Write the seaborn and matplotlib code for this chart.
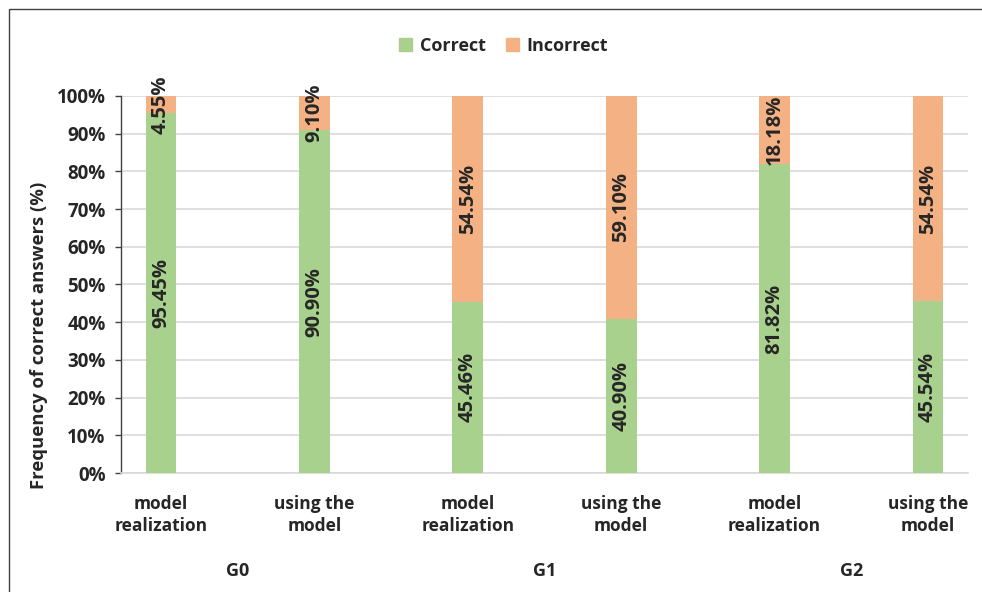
import matplotlib
matplotlib.use("Agg")
import matplotlib.pyplot as plt
import matplotlib.patches as mpatches
import matplotlib.transforms as mtransforms
import seaborn as sns
import pandas as pd

# chart data
tasks = ["model\nrealization", "using the\nmodel", "model\nrealization",
         "using the\nmodel", "model\nrealization", "using the\nmodel"]
groups = ["G0", "G1", "G2"]
correct = [95.45, 90.90, 45.46, 40.90, 81.82, 45.54]
incorrect = [4.55, 9.10, 54.54, 59.10, 18.18, 54.54]
correct_labels = ["95.45%", "90.90%", "45.46%", "40.90%", "81.82%", "45.54%"]
incorrect_labels = ["4.55%", "9.10%", "54.54%", "59.10%", "18.18%", "54.54%"]

green = "#A9D18E"
orange = "#F4B183"

df = pd.DataFrame({
    "key": [str(i) for i in range(len(tasks))],
    "correct": correct,
    "total": [c + w for c, w in zip(correct, incorrect)],
})

sns.set_style("white")
plt.rcParams["font.family"] = ["Open Sans", "DejaVu Sans"]
plt.rcParams["font.weight"] = "bold"

fig = plt.figure(figsize=(9.82, 5.92), dpi=100)
ax = fig.add_axes([0.1232, 0.201, 0.8625, 0.637])

sns.barplot(data=df, x="key", y="total", color=orange, width=0.2,
            saturation=1, linewidth=0, ax=ax, zorder=2)
sns.barplot(data=df, x="key", y="correct", color=green, width=0.2,
            saturation=1, linewidth=0, ax=ax, zorder=3)

# segment labels
for i in range(len(tasks)):
    ax.text(i, correct[i] / 2, correct_labels[i], rotation=90, ha="center",
            va="center", fontsize=14.5, fontweight="bold", zorder=5)
    ax.text(i, correct[i] + incorrect[i] / 2, incorrect_labels[i], rotation=90,
            ha="center", va="center", fontsize=14.5, fontweight="bold", zorder=5)

ax.set_xlim(-0.26, len(tasks) - 1 + 0.26)
ax.set_ylim(0, 100)
ax.set_yticks(range(0, 101, 10))
ax.set_yticklabels([f"{v}%" for v in range(0, 101, 10)], fontsize=13.5,
                   fontweight="bold")
ax.set_xticks(range(len(tasks)))
ax.set_xticklabels(tasks, fontsize=12.5, fontweight="bold", linespacing=1.3)
ax.tick_params(axis="x", length=0, pad=16)
ax.tick_params(axis="y", length=4, width=1, color="#404040", direction="out",
               pad=7, left=True)
ax.set_xlabel("")
ax.set_ylabel("")
fig.text(39 / 982, 1 - 335 / 592, "Frequency of correct answers (%)",
         rotation=90, ha="center", va="center", fontsize=13.3,
         fontweight="bold")

ax.yaxis.grid(True, color="#D9D9D9", linewidth=1.2, zorder=0)
ax.set_axisbelow(True)
for side in ["top", "right"]:
    ax.spines[side].set_visible(False)
ax.spines["bottom"].set_color("#D9D9D9")
ax.spines["bottom"].set_linewidth(1.2)
ax.spines["left"].set_color("#404040")
ax.spines["left"].set_linewidth(1)

# group labels under the pairs
trans = mtransforms.blended_transform_factory(ax.transData, ax.transAxes)
for g, name in enumerate(groups):
    ax.text(2 * g + 0.5, -0.26, name, transform=trans, ha="center",
            va="center", fontsize=13, fontweight="bold")

handles = [mpatches.Patch(color=green, label="Correct"),
           mpatches.Patch(color=orange, label="Incorrect")]
fig.legend(handles=handles, loc="center", bbox_to_anchor=(0.513, 0.923), ncol=2,
           frameon=False, handlelength=0.7, handleheight=0.7,
           handletextpad=0.45, columnspacing=1.1,
           prop={"weight": "bold", "size": 13})

# outer chart border (cut off on the right and bottom)
fig.patches.append(mpatches.Rectangle((9 / 982, -0.05), 1.2, 1 - 9 / 592 + 0.05,
                                      transform=fig.transFigure, fill=False,
                                      edgecolor="#404040", linewidth=1))

fig.savefig("out.png", dpi=100)
